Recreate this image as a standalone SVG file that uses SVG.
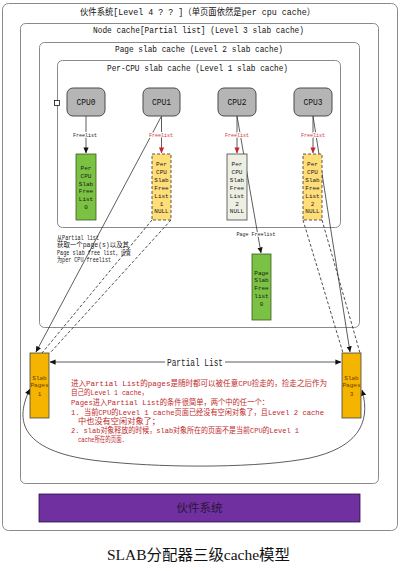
<svg xmlns="http://www.w3.org/2000/svg" width="405" height="571" viewBox="0 0 405 571">
<style>
.box{fill:none;stroke:#8a8a8a;stroke-width:1}
.ttl{font-family:"Liberation Mono","Noto Sans CJK SC",monospace;font-size:9px;fill:#111}
.cpu{fill:#b5b5b5;stroke:#4a4a4a;stroke-width:1}
.cput{font-family:"Liberation Mono",monospace;font-size:9px;fill:#111;text-anchor:middle}
.lt{font-family:"Liberation Mono",monospace;font-size:6px;fill:#1a1a1a;text-anchor:middle}
.fl{font-family:"Liberation Mono",monospace;font-size:6px;text-anchor:middle;stroke:#fff;stroke-width:2px;paint-order:stroke}
.ln{fill:none;stroke:#333;stroke-width:0.8}
.dash{fill:none;stroke:#222;stroke-width:0.8;stroke-dasharray:3 2}
.red{font-family:"Liberation Mono","Noto Sans CJK SC",monospace;font-size:8px;fill:#c0282a}
.cm{font-family:"Liberation Mono","Noto Sans CJK SC",monospace;font-size:6.5px;fill:#222}
.sp{fill:#f5b400;stroke:#444;stroke-width:0.8}
.spt{font-family:"Liberation Mono",monospace;font-size:6px;fill:#6b3a00;text-anchor:middle}
</style>
<defs>
<marker id="ab" viewBox="0 0 8 8" refX="7.5" refY="4" markerWidth="6" markerHeight="6" orient="auto-start-reverse" markerUnits="userSpaceOnUse"><path d="M0,0.5 L8,4 L0,7.5 Z" fill="#111"/></marker>
<marker id="ar" viewBox="0 0 8 8" refX="7.5" refY="4" markerWidth="6" markerHeight="6" orient="auto" markerUnits="userSpaceOnUse"><path d="M0,0.5 L8,4 L0,7.5 Z" fill="#d0202a"/></marker>
</defs>
<rect x="0" y="0" width="405" height="571" fill="#fff"/>

<g id="level4">
<rect class="box" x="2.5" y="3.5" width="395" height="527" rx="6"/>
<text class="ttl" x="80" y="14.5" textLength="235" lengthAdjust="spacingAndGlyphs">伙件系统[Level 4 ? ? ]（单页面依然是per cpu cache）</text>
</g>
<g id="level3">
<rect class="box" x="20.5" y="23.5" width="358" height="460" rx="5"/>
<text class="ttl" x="93" y="33" textLength="211" lengthAdjust="spacingAndGlyphs">Node cache[Partial list] (Level 3 slab cache)</text>
</g>
<g id="level2">
<rect class="box" x="39.5" y="42.5" width="320" height="285" rx="5"/>
<text class="ttl" x="115" y="52" textLength="168" lengthAdjust="spacingAndGlyphs">Page slab cache (Level 2 slab cache)</text>
</g>
<g id="level1">
<rect class="box" x="57.5" y="60.5" width="283" height="167" rx="5"/>
<text class="ttl" x="107" y="71" textLength="181" lengthAdjust="spacingAndGlyphs">Per-CPU slab cache (Level 1 slab cache)</text>
<rect x="54.5" y="100.5" width="5" height="5" fill="#fff" stroke="#111" stroke-width="0.8"/>
</g>

<g id="connectors">
<line class="ln" x1="86" y1="116" x2="86" y2="153" marker-end="url(#ab)"/>
<line class="ln" x1="161.5" y1="116" x2="161.5" y2="153" marker-end="url(#ar)"/>
<line class="ln" x1="237" y1="116" x2="237" y2="153" marker-end="url(#ar)"/>
<line class="ln" x1="313" y1="116" x2="313" y2="153" marker-end="url(#ar)"/>
<line class="ln" x1="237" y1="116" x2="261" y2="253" marker-end="url(#ab)"/>
<line class="ln" x1="161" y1="117" x2="36" y2="352" marker-end="url(#ab)"/>
<line class="dash" x1="152" y1="220" x2="42" y2="353"/>
<line class="dash" x1="171" y1="220" x2="50" y2="353"/>
<line class="ln" x1="313" y1="116" x2="350" y2="352" marker-end="url(#ab)"/>
<line class="dash" x1="303" y1="220" x2="343" y2="353"/>
<line class="dash" x1="322" y1="220" x2="360" y2="353"/>
<line class="ln" x1="165" y1="362" x2="50" y2="362" marker-end="url(#ab)"/>
<line class="ln" x1="225" y1="362" x2="341" y2="362" marker-end="url(#ab)"/>
<path class="ln" d="M30,389 C12,425 25,455 110,462 C170,468 260,468 310,458 C355,448 372,425 362,390" marker-start="url(#ab)" marker-end="url(#ab)"/>
<text class="fl" x="85" y="137" fill="#222" textLength="24" lengthAdjust="spacingAndGlyphs">Freelist</text>
<text class="fl" x="161" y="137" fill="#d0303a" textLength="24" lengthAdjust="spacingAndGlyphs">Freelist</text>
<text class="fl" x="237" y="137" fill="#d0303a" textLength="24" lengthAdjust="spacingAndGlyphs">Freelist</text>
<text class="fl" x="313" y="137" fill="#d0303a" textLength="24" lengthAdjust="spacingAndGlyphs">Freelist</text>
<text class="fl" x="256" y="236" fill="#222" textLength="39" lengthAdjust="spacingAndGlyphs">Page Freelist</text>
<text x="195" y="366" font-family="Liberation Mono,monospace" font-size="10" fill="#222" text-anchor="middle" textLength="56" lengthAdjust="spacingAndGlyphs">Partial List</text>
</g>

<g id="cpu0"><rect class="cpu" x="67" y="88" width="38" height="28" rx="6"/><text class="cput" x="86" y="105" textLength="19" lengthAdjust="spacingAndGlyphs">CPU0</text></g>
<g id="cpu1"><rect class="cpu" x="143" y="88" width="37" height="28" rx="6"/><text class="cput" x="161.5" y="105" textLength="19" lengthAdjust="spacingAndGlyphs">CPU1</text></g>
<g id="cpu2"><rect class="cpu" x="218" y="88" width="38" height="28" rx="6"/><text class="cput" x="237" y="105" textLength="19" lengthAdjust="spacingAndGlyphs">CPU2</text></g>
<g id="cpu3"><rect class="cpu" x="294" y="88" width="38" height="28" rx="6"/><text class="cput" x="313" y="105" textLength="19" lengthAdjust="spacingAndGlyphs">CPU3</text></g>

<g id="list0">
<rect x="76" y="154" width="20" height="66" fill="#7bc143" stroke="#3d5a1e" stroke-width="0.8"/>
<text class="lt" x="86" y="169.5">Per</text><text class="lt" x="86" y="177.5">CPU</text><text class="lt" x="86" y="185.5">Slab</text><text class="lt" x="86" y="193" font-size="5.5">Free</text><text class="lt" x="86" y="200.5" font-size="5.5">List</text><text class="lt" x="86" y="208.5">0</text>
</g>
<g id="list1">
<rect x="152" y="154" width="19" height="66" fill="#ffde7a" stroke="#333" stroke-width="0.8" stroke-dasharray="3 2"/>
<text class="lt" x="161.5" y="165.5">Per</text><text class="lt" x="161.5" y="173.5">CPU</text><text class="lt" x="161.5" y="181.5">Slab</text><text class="lt" x="161.5" y="189.5" font-size="5.5">Free</text><text class="lt" x="161.5" y="197.5" font-size="5.5">List</text><text class="lt" x="161.5" y="205.5">1</text><text class="lt" x="161.5" y="213">NULL</text>
</g>
<g id="list2">
<rect x="227" y="154" width="20" height="66" fill="#edefe3" stroke="#444" stroke-width="0.8"/>
<text class="lt" x="237" y="165.5">Per</text><text class="lt" x="237" y="173.5">CPU</text><text class="lt" x="237" y="181.5">Slab</text><text class="lt" x="237" y="189.5" font-size="5.5">Free</text><text class="lt" x="237" y="197.5" font-size="5.5">List</text><text class="lt" x="237" y="205.5">2</text><text class="lt" x="237" y="213">NULL</text>
</g>
<g id="list3">
<rect x="303" y="154" width="19" height="66" fill="#ffde7a" stroke="#333" stroke-width="0.8" stroke-dasharray="3 2"/>
<text class="lt" x="312.5" y="165.5">Per</text><text class="lt" x="312.5" y="173.5">CPU</text><text class="lt" x="312.5" y="181.5">Slab</text><text class="lt" x="312.5" y="189.5" font-size="5.5">Free</text><text class="lt" x="312.5" y="197.5" font-size="5.5">List</text><text class="lt" x="312.5" y="205.5">2</text><text class="lt" x="312.5" y="213">NULL</text>
</g>
<g id="pagelist0">
<rect x="252" y="254" width="19" height="66" fill="#7bc143" stroke="#3d5a1e" stroke-width="0.8"/>
<text class="lt" x="261.5" y="274.5">Page</text><text class="lt" x="261.5" y="281.5">Slab</text><text class="lt" x="261.5" y="289.5">Free</text><text class="lt" x="261.5" y="297.5">list</text><text class="lt" x="261.5" y="305.5">0</text>
</g>

<g id="note-partial">
<text class="cm" x="57" y="239.5" textLength="42" lengthAdjust="spacingAndGlyphs">从Partial list</text>
<text class="cm" x="57" y="246.5" textLength="72" lengthAdjust="spacingAndGlyphs">获取一个page(s)以及其</text>
<text class="cm" x="57" y="254.5" textLength="74" lengthAdjust="spacingAndGlyphs">Page slab free list，设置</text>
<text class="cm" x="57" y="261.5" textLength="54" lengthAdjust="spacingAndGlyphs">为per CPU freelist</text>
</g>

<g id="slabpages1">
<rect class="sp" x="30" y="353" width="19" height="65"/>
<text class="spt" x="39.5" y="379.5">Slab</text><text class="spt" x="39.5" y="387" font-size="5">Pages</text><text class="spt" x="39.5" y="395.5">1</text>
</g>
<g id="slabpages3">
<rect class="sp" x="342" y="353" width="19" height="65"/>
<text class="spt" x="351.5" y="379.5">Slab</text><text class="spt" x="351.5" y="387" font-size="5">Pages</text><text class="spt" x="351.5" y="395.5">3</text>
</g>

<g id="note-red">
<text class="red" x="71" y="386" textLength="256" lengthAdjust="spacingAndGlyphs">进入Partial List的pages是随时都可以被任意CPU捡走的，捡走之后作为</text>
<text class="red" x="71" y="395" textLength="77" lengthAdjust="spacingAndGlyphs">自己的Level 1 cache，</text>
<text class="red" x="71" y="405" textLength="198" lengthAdjust="spacingAndGlyphs">Pages进入Partial List的条件很简单，两个中的任一个：</text>
<text class="red" x="71" y="415" textLength="253" lengthAdjust="spacingAndGlyphs">1. 当前CPU的Level 1 cache页面已经没有空闲对象了，且Level 2 cache</text>
<text class="red" x="78" y="424" textLength="82" lengthAdjust="spacingAndGlyphs">中也没有空闲对象了；</text>
<text class="red" x="71" y="433" textLength="228" lengthAdjust="spacingAndGlyphs">2. slab对象释放的时候，slab对象所在的页面不是当前CPU的Level 1</text>
<text class="red" x="78" y="442" textLength="47" lengthAdjust="spacingAndGlyphs">cache所在的页面.</text>
</g>

<g id="buddy">
<rect x="39" y="494" width="321" height="28" fill="#7030a0" stroke="#2a1040" stroke-width="0.8"/>
<text x="199.5" y="512" font-family="Noto Sans CJK SC,sans-serif" font-size="11.5" fill="#2a1638" text-anchor="middle">伙件系统</text>
</g>
<g id="caption">
<text x="107" y="560" font-family="Liberation Serif,Noto Sans CJK SC,serif" font-size="15" fill="#111" textLength="183" lengthAdjust="spacingAndGlyphs">SLAB分配器三级cache模型</text>
</g>
</svg>
